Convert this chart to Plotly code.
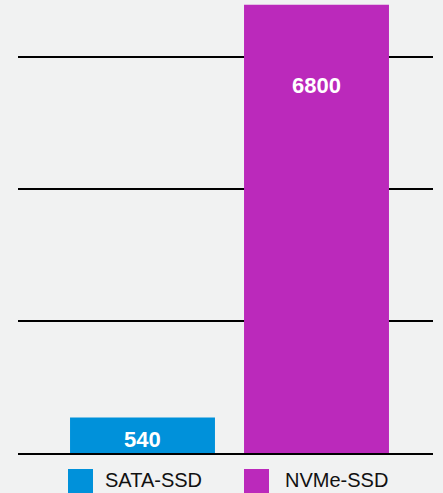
import plotly.graph_objects as go

categories = ["SATA-SSD", "NVMe-SSD"]
values = [540, 6800]
colors = ["#0091da", "#bb29bb"]
grid_vals = [0, 2000, 4000, 6000]
label_shift = [-22, -81]

W, H = 443, 493
ml, mr, mt, mb = 18, 10, 0, 40
plot_w = W - ml - mr
plot_h = H - mt - mb

fig = go.Figure()
for i, (c, v, col) in enumerate(zip(categories, values, colors)):
    fig.add_trace(go.Bar(
        x=[c], y=[v], marker=dict(color=col, line=dict(width=0)),
        width=0.833, showlegend=False, hoverinfo="skip",
    ))
    fig.add_annotation(
        x=c, y=v, xref="x", yref="y", text=str(v), showarrow=False,
        yanchor="middle", yshift=label_shift[i],
        font=dict(family="Liberation Sans, Arial", size=22, color="white", weight="bold"),
    )

# manual legend (large square swatches)
leg_sq_x = [68, 244]
leg_txt_x = [103, 283]
for c, col, sx, tx in zip(categories, colors, leg_sq_x, leg_txt_x):
    x0 = (sx - ml) / plot_w
    x1 = (sx + 25 - ml) / plot_w
    y0 = -(469 - (mt + plot_h)) / plot_h
    y1 = -(496 - (mt + plot_h)) / plot_h
    fig.add_shape(type="rect", xref="paper", yref="paper", x0=x0, x1=x1, y0=y1, y1=y0,
                  fillcolor=col, line=dict(width=0), layer="above")
    fig.add_annotation(
        x=(tx - ml) / plot_w, y=-(480 - (mt + plot_h)) / plot_h, xref="paper", yref="paper",
        text=c, showarrow=False, xanchor="left", yanchor="middle",
        font=dict(family="Liberation Sans, Arial", size=20, color="#111111"),
    )

ymax = values[1] * plot_h / 448.3
fig.update_layout(
    width=W, height=H,
    margin=dict(l=ml, r=mr, t=mt, b=mb),
    paper_bgcolor="#f1f2f2", plot_bgcolor="#f1f2f2",
    barmode="overlay",
    xaxis=dict(type="category", range=[-0.7155, 1.6695], showticklabels=False,
               showgrid=False, zeroline=False, showline=True, linecolor="#000000",
               linewidth=2, ticks="", fixedrange=True),
    yaxis=dict(range=[0, ymax], tickvals=grid_vals, showticklabels=False,
               showgrid=True, gridcolor="#000000", gridwidth=2, zeroline=False,
               showline=False, ticks="", fixedrange=True),
    showlegend=False,
)

fig.write_html("out.html")
